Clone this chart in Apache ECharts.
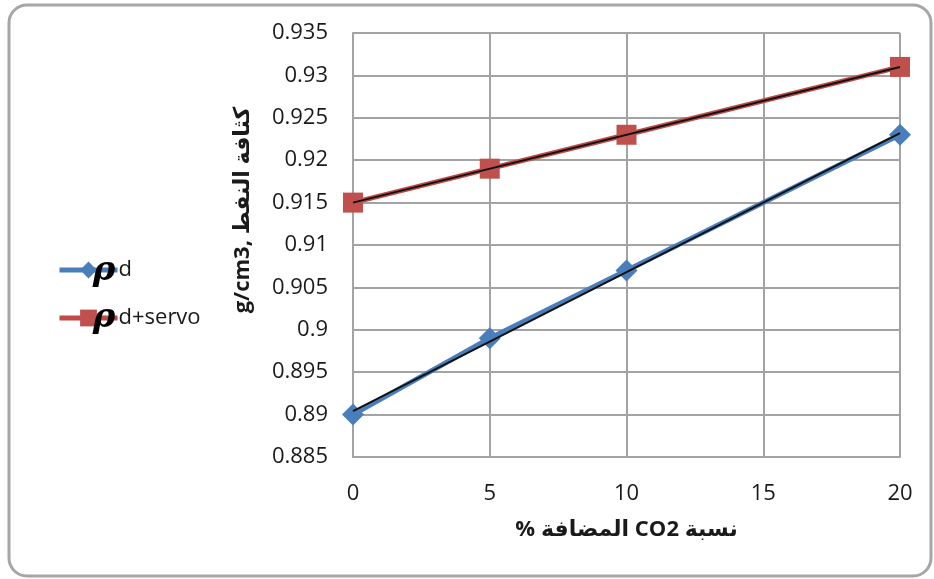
<!DOCTYPE html>
<html>
<head>
<meta charset="utf-8">
<script src="https://cdn.jsdelivr.net/npm/echarts@6/dist/echarts.min.js"></script>
<style>
  html, body { margin: 0; padding: 0; background: #ffffff; }
  #chart { width: 934px; height: 579px; }
</style>
</head>
<body>
<div id="chart"></div>
<script>
// CO2 added (%) on the x axis
const co2Percent = [0, 5, 10, 20];
// Oil density (g/cm3) for each series
const densityD = [0.890, 0.899, 0.907, 0.923];
const densityServo = [0.915, 0.919, 0.923, 0.931];
const seriesNames = ['d', 'd+servo'];

const FONT = '"Open Sans", "DejaVu Sans", sans-serif';

// Least-squares trend line through a series, evaluated at the axis ends
function trend(xs, ys, x0, x1) {
  const n = xs.length;
  const mx = xs.reduce((a, b) => a + b, 0) / n;
  const my = ys.reduce((a, b) => a + b, 0) / n;
  let sxy = 0, sxx = 0;
  for (let i = 0; i < n; i++) {
    sxy += (xs[i] - mx) * (ys[i] - my);
    sxx += (xs[i] - mx) * (xs[i] - mx);
  }
  const b = sxy / sxx, a = my - b * mx;
  return [[x0, a + b * x0], [x1, a + b * x1]];
}

const pairs = (ys) => co2Percent.map((x, i) => [x, ys[i]]);
const xMin = co2Percent[0], xMax = co2Percent[co2Percent.length - 1];

const chart = echarts.init(document.getElementById('chart'), null, { renderer: 'canvas' });

const gridColor = '#a3a3a3';
const rhoFont = 'italic bold 34px "DejaVu Serif", serif';

chart.setOption({
  backgroundColor: '#ffffff',
  animation: false,
  textStyle: { fontFamily: FONT },
  grid: { left: 353, right: 34, top: 33, bottom: 122, containLabel: false },
  legend: {
    data: seriesNames,
    orient: 'vertical',
    left: 52,
    top: 254,
    itemWidth: 58,
    itemHeight: 21,
    itemGap: 26,
    lineStyle: { width: 5 },
    textStyle: { fontFamily: FONT, fontSize: 22, color: '#1a1a1a', padding: [0, 0, 0, -4] }
  },
  xAxis: {
    type: 'value',
    min: 0,
    max: 20,
    interval: 5,
    name: '\u202Bنسبة CO2 المضافة %\u202C',
    nameLocation: 'middle',
    nameGap: 62,
    nameTextStyle: { fontFamily: FONT, fontSize: 22, fontWeight: 'bold', color: '#1a1a1a' },
    axisLine: { show: true, lineStyle: { color: gridColor, width: 2 } },
    axisTick: { show: false },
    axisLabel: { fontFamily: FONT, fontSize: 22, color: '#1a1a1a', margin: 26 },
    splitLine: { show: true, lineStyle: { color: gridColor, width: 2 } }
  },
  yAxis: {
    type: 'value',
    min: 0.885,
    max: 0.935,
    interval: 0.005,
    axisLine: { show: true, lineStyle: { color: gridColor, width: 2 } },
    axisTick: { show: false },
    axisLabel: {
      fontFamily: FONT, fontSize: 22, color: '#1a1a1a', margin: 25,
      formatter: (v) => String(Number(v.toFixed(3)))
    },
    splitLine: { show: true, lineStyle: { color: gridColor, width: 2 } }
  },
  series: [
    {
      name: seriesNames[0],
      type: 'line',
      data: pairs(densityD),
      symbol: 'diamond',
      symbolSize: 22,
      itemStyle: { color: '#4a7ebb' },
      lineStyle: { color: '#4a7ebb', width: 5 },
      z: 2
    },
    {
      name: seriesNames[1],
      type: 'line',
      data: pairs(densityServo),
      symbol: 'rect',
      symbolSize: 20,
      itemStyle: { color: '#c0504d' },
      lineStyle: { color: '#be4b48', width: 5 },
      z: 2
    },
    {
      name: 'trend d',
      type: 'line',
      data: trend(co2Percent, densityD, xMin, xMax),
      symbol: 'none',
      lineStyle: { color: '#111111', width: 2 },
      silent: true,
      z: 4
    },
    {
      name: 'trend d+servo',
      type: 'line',
      data: trend(co2Percent, densityServo, xMin, xMax),
      symbol: 'none',
      lineStyle: { color: '#111111', width: 2 },
      silent: true,
      z: 4
    }
  ],
  graphic: [
    {
      type: 'rect',
      shape: { x: 9, y: 5, width: 922, height: 571, r: 18 },
      style: { fill: 'none', stroke: '#a6a6a6', lineWidth: 3 },
      silent: true,
      z: 0
    },
    {
      type: 'text',
      x: 243,
      y: 210,
      rotation: Math.PI / 2,
      style: {
        text: 'g/cm3, كثافة النفط',
        font: 'bold 22px ' + FONT,
        fill: '#1a1a1a',
        align: 'center',
        verticalAlign: 'middle'
      },
      silent: true
    },
    {
      type: 'text',
      x: 104,
      y: 271,
      style: { text: 'ρ', font: rhoFont, fill: '#000000', align: 'center', verticalAlign: 'middle' },
      silent: true,
      z: 10
    },
    {
      type: 'text',
      x: 104,
      y: 318,
      style: { text: 'ρ', font: rhoFont, fill: '#000000', align: 'center', verticalAlign: 'middle' },
      silent: true,
      z: 10
    }
  ]
});
</script>
</body>
</html>
